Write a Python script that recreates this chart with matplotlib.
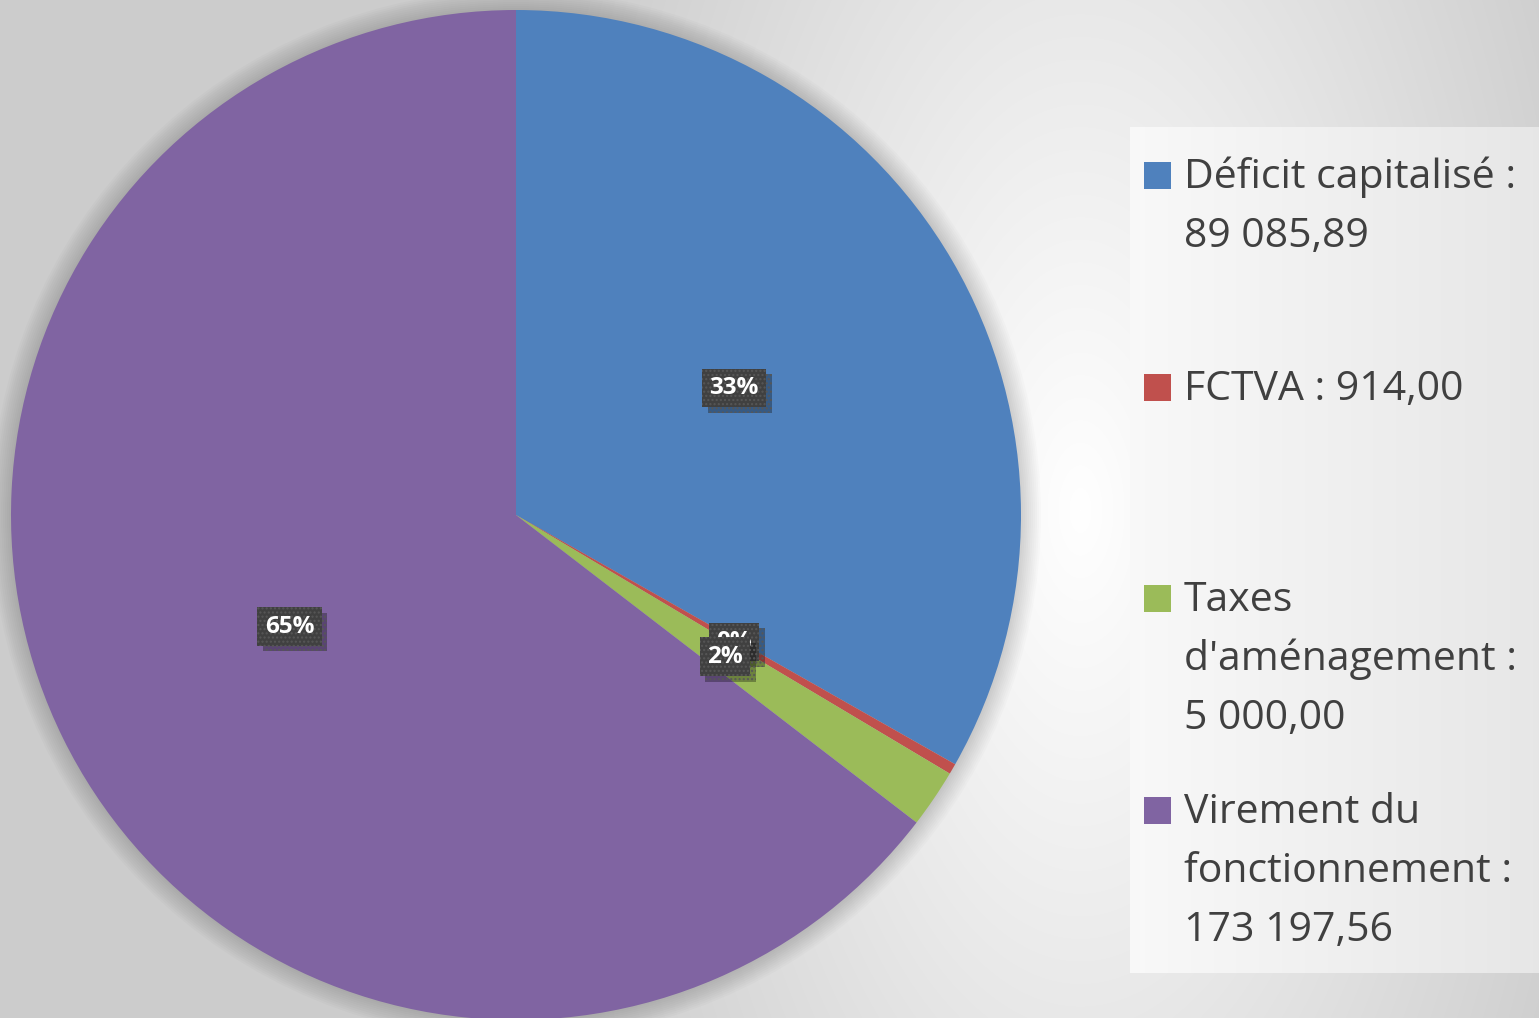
import numpy as np
import matplotlib
matplotlib.use("Agg")
import matplotlib.pyplot as plt
import matplotlib.patheffects as pe
from matplotlib.patches import Circle, Rectangle

# donnees du graphique
names = ["Déficit capitalisé", "FCTVA", "Taxes\nd'aménagement", "Virement du\nfonctionnement"]
seps = [" :\n", " : ", " :\n", " :\n"]
values = [89085.89, 914.00, 5000.00, 173197.56]
colors = ["#4F81BD", "#C0504D", "#9BBB59", "#8064A2"]

W, H = 1539, 1018
fig = plt.figure(figsize=(W / 100, H / 100), dpi=100)
ax = fig.add_axes([0, 0, 1, 1])

# fond en degrade radial
yy, xx = np.mgrid[0:H, 0:W]
d = np.sqrt(((xx - 1080) / 560.0) ** 2 + ((yy - 510) / 1150.0) ** 2)
d = np.clip(d, 0, 1)
g = 1.0 - 0.2 * d
bg = np.dstack([g, g, g])
ax.imshow(bg, extent=(0, W, 0, H), origin="upper", zorder=0, interpolation="bilinear")

# cadre de la legende
lx = np.linspace(0.975, 0.905, 200)
leg = np.dstack([lx, lx, lx]).repeat(2, axis=0)
ax.imshow(leg, extent=(1130, W, H - 973, H - 127), zorder=1, aspect="auto")

# camembert
cx, cy, r = 516, H - 515, 505
for i in range(1, 11):
    ax.add_patch(Circle((cx, cy), r + 2 * i, color="black", alpha=0.016, lw=0, zorder=1.5))

wedges, texts, autotexts = ax.pie(
    values, colors=colors, startangle=90, counterclock=False,
    center=(cx, cy), radius=r, pctdistance=0.5,
    autopct=lambda p: f"{p:.0f}%",
    wedgeprops=dict(linewidth=0),
    textprops=dict(color="white", fontsize=17.5, fontweight="bold", family="Open Sans"),
)
for w in wedges:
    w.set_zorder(2)
for t in autotexts:
    t.set_zorder(4)
    t.set_bbox(dict(boxstyle="square,pad=0.3", facecolor="#404040",
                    edgecolor="#575757", linewidth=0, hatch="...."))
    t.get_bbox_patch().set_path_effects([
        pe.SimplePatchShadow(offset=(4, -4), shadow_rgbFace="black", alpha=0.3),
        pe.Normal()])

# legende
def fr(v):
    return f"{v:,.2f}".replace(",", " ").replace(".", ",")

baselines = [188, 400, 611, 823]
step = 59
for name, sep, v, c, b in zip(names, seps, values, colors, baselines):
    lines = (name + sep + fr(v)).split("\n")
    ax.add_patch(Rectangle((1144, H - b - 1), 27, 27, facecolor=c, lw=0, zorder=3))
    for k, line in enumerate(lines):
        ax.text(1184, H - (b + k * step), line, fontsize=29.5, color="#404040",
                family="Open Sans", va="baseline", ha="left", zorder=3)

ax.set_xlim(0, W)
ax.set_ylim(0, H)
ax.set_aspect("auto")
ax.axis("off")

fig.savefig("out.png", dpi=100)
